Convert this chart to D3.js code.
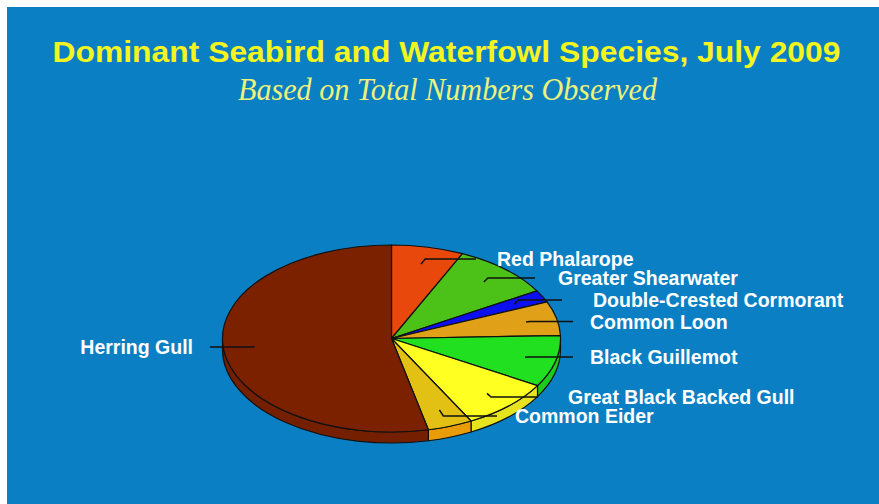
<!DOCTYPE html>
<html>
<head>
<meta charset="utf-8">
<script src="https://cdn.jsdelivr.net/npm/d3@7"></script>
<style>
  html, body { margin: 0; padding: 0; background: #ffffff; }
  svg { display: block; }
</style>
</head>
<body>
<svg id="chart" width="879" height="504"></svg>
<script>
// Species share of total birds observed (percent), clockwise from 12 o'clock
const species = [
  "Red Phalarope", "Greater Shearwater", "Double-Crested Cormorant", "Common Loon",
  "Black Guillemot", "Great Black Backed Gull", "Common Eider", "Herring Gull"
];
const shares = [6.9, 9.6, 2.1, 5.9, 8.9, 8.8, 4.3, 53.5];
const topColors = ["#e8480c", "#4cc218", "#0c10f0", "#e0a018", "#20e020", "#ffff22", "#e2c014", "#7b2100"];
const sideColors = ["#d0400a", "#44b016", "#0a0ed8", "#e89a10", "#1ccc1c", "#e6e41e", "#e89c08", "#742000"];

// Label placement: text anchor point and where the leader line ends
const labelLayout = [
  { tx: 497, ty: 259, lineEnd: 476, side: "right" },
  { tx: 558, ty: 278, lineEnd: 535, side: "right" },
  { tx: 593, ty: 300, lineEnd: 562, side: "right" },
  { tx: 590, ty: 321.5, lineEnd: 573, side: "right" },
  { tx: 590, ty: 357, lineEnd: 573, side: "right" },
  { tx: 568, ty: 397, lineEnd: 538, side: "right" },
  { tx: 515, ty: 416, lineEnd: 497, side: "right" },
  { tx: 193, ty: 347, lineEnd: 210, side: "left" }
];

const W = 879, H = 504;
const cx = 391.5, cy = 338.5, rx = 169, ry = 93.5, depth = 11;

const svg = d3.select("#chart");

// backdrop
svg.append("rect").attr("x", 7).attr("y", 7).attr("width", W - 7).attr("height", H - 7)
  .attr("fill", "#0b7fc3");

// titles
svg.append("text")
  .attr("x", 446.5).attr("y", 62)
  .attr("text-anchor", "middle")
  .attr("font-family", "'Liberation Sans', Arial, sans-serif")
  .attr("font-weight", "bold").attr("font-size", 30)
  .attr("textLength", 788).attr("lengthAdjust", "spacingAndGlyphs")
  .attr("fill", "#f4f41e")
  .text("Dominant Seabird and Waterfowl Species, July 2009");

svg.append("text")
  .attr("x", 447.5).attr("y", 100)
  .attr("text-anchor", "middle")
  .attr("font-family", "'Liberation Serif', 'Times New Roman', serif")
  .attr("font-style", "italic").attr("font-size", 31)
  .attr("textLength", 419).attr("lengthAdjust", "spacingAndGlyphs")
  .attr("fill", "#ecf27a")
  .text("Based on Total Numbers Observed");

// pie layout (angles clockwise from top)
const data = species.map((name, i) => ({ name, value: shares[i], i }));
const arcs = d3.pie().sort(null).value(d => d.value)(data);

const pt = (a, r = 1, dy = 0) => [cx + rx * r * Math.sin(a), cy - ry * r * Math.cos(a) + dy];

function topPath(a0, a1) {
  const p = d3.path();
  const s = pt(a0), e = pt(a1);
  p.moveTo(cx, cy);
  p.lineTo(s[0], s[1]);
  const large = (a1 - a0) > Math.PI ? 1 : 0;
  return p.toString() + `A${rx},${ry} 0 ${large} 1 ${e[0]},${e[1]}Z`;
}

function sidePath(a0, a1) {
  const s = pt(a0), e = pt(a1), eb = pt(a1, 1, depth), sb = pt(a0, 1, depth);
  const large = (a1 - a0) > Math.PI ? 1 : 0;
  return `M${s[0]},${s[1]}A${rx},${ry} 0 ${large} 1 ${e[0]},${e[1]}` +
         `L${eb[0]},${eb[1]}A${rx},${ry} 0 ${large} 0 ${sb[0]},${sb[1]}Z`;
}

const pieG = svg.append("g");

// visible wall along the front half of the disc
arcs.forEach(a => {
  const a0 = Math.max(a.startAngle, Math.PI / 2);
  const a1 = Math.min(a.endAngle, 3 * Math.PI / 2);
  if (a1 > a0) {
    pieG.append("path").attr("d", sidePath(a0, a1))
      .attr("fill", sideColors[a.data.i])
      .attr("stroke", "#111").attr("stroke-width", 1.2).attr("stroke-linejoin", "round");
  }
});

// top faces
pieG.selectAll("path.top").data(arcs).join("path")
  .attr("class", "top")
  .attr("d", a => topPath(a.startAngle, a.endAngle))
  .attr("fill", a => topColors[a.data.i])
  .attr("stroke", "#111").attr("stroke-width", 1.2).attr("stroke-linejoin", "round");

// leader lines
arcs.forEach((a, k) => {
  const L = labelLayout[k];
  const mid = (a.startAngle + a.endAngle) / 2;
  const s = pt(mid, 0.815);
  const hookX = s[0] + (L.side === "right" ? 4 : -4);
  svg.append("path")
    .attr("d", `M${s[0]},${s[1]}L${hookX},${L.ty}L${L.lineEnd},${L.ty}`)
    .attr("fill", "none").attr("stroke", "#111").attr("stroke-width", 1.5);
});

// labels
svg.selectAll("text.lbl").data(arcs).join("text")
  .attr("class", "lbl")
  .attr("x", (a, k) => labelLayout[k].tx)
  .attr("y", (a, k) => labelLayout[k].ty + 7)
  .attr("text-anchor", (a, k) => labelLayout[k].side === "right" ? "start" : "end")
  .attr("font-family", "'Liberation Sans', Arial, sans-serif")
  .attr("font-weight", "bold").attr("font-size", 19.5)
  .attr("fill", "#ffffff")
  .text(a => a.data.name);
</script>
</body>
</html>
